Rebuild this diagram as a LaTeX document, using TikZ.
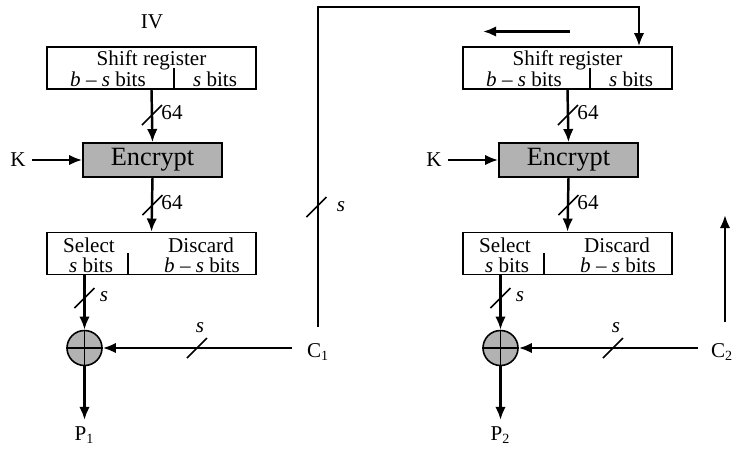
\documentclass[tikz,border=0pt]{standalone}
\usepackage{fontspec}
\setmainfont{Liberation Serif}
\usetikzlibrary{arrows.meta}

\begin{document}
\begin{tikzpicture}[
    font=\fontsize{12}{13}\selectfont,
    regbox/.style={draw,line width=0.9pt,minimum width=4.18cm,minimum height=0.84cm,inner sep=0pt},
    encbox/.style={draw,line width=0.9pt,fill=black!30,minimum width=2.78cm,minimum height=0.68cm,inner sep=0pt,font=\fontsize{15}{16}\selectfont},
    xorc/.style={draw,circle,line width=0.9pt,fill=black!30,minimum size=0.7cm,inner sep=0pt},
    bus/.style={line width=1.4pt,-{Latex[length=7.5pt,width=6pt]}},
    tick/.style={line width=0.9pt},
    lbl/.style={inner sep=1pt}
  ]
            \useasboundingbox (0,0) rectangle (14.72,-9.08);

            % 第一级
            \node (iv) at (3.04,-0.44) {IV};
            \node[regbox] (sr1) at (3.03,-1.36) {};
            \node[lbl] (sr1a) at (3.03,-1.2) {Shift register};
            \node[lbl] (sr1b) at (2.16,-1.58) {\textit{b} – \textit{s} bits};
            \node[lbl] (sr1c) at (4.3,-1.58) {\textit{s} bits};
            \draw[tick] (3.48,-1.36) -- (3.48,-1.78);

            \node[encbox] (enc1) at (3.05,-3.2) {Encrypt};
            \node (K1) at (0.36,-3.2) {K};

            \node[regbox] (sel1) at (3.03,-5.07) {};
            \node[lbl] (sel1a) at (1.78,-4.9) {Select};
            \node[lbl] (sel1b) at (1.82,-5.3) {\textit{s} bits};
            \node[lbl] (sel1c) at (4.02,-4.9) {Discard};
            \node[lbl] (sel1d) at (4.04,-5.3) {\textit{b} – \textit{s} bits};
            \draw[tick] (2.56,-5.06) -- (2.56,-5.48);

            \node[xorc] (xor1) at (1.69,-6.96) {};
            \draw[tick] (xor1.north) -- (xor1.south) (xor1.west) -- (xor1.east);
            \node (C1) at (6.36,-7.04) {C\textsubscript{1}};
            \node[anchor=north] (P1) at (1.69,-8.4) {P\textsubscript{1}};

            \draw[bus] (sr1.south) -- (enc1.north);
            \draw[bus] (K1) -- (enc1.west);
            \draw[bus] (enc1.south) -- (sel1.north);
            \draw[bus] (sel1.south -| xor1) -- (xor1.north);
            \draw[bus,shorten <=5pt] (xor1 -| C1.west) -- (xor1.east);
            \draw[bus] (xor1.south) -- (P1.north);

            % 位宽标记
            \draw[tick] (3.04,-2.3) ++(-0.2,-0.2) -- ++(0.4,0.4);
            \node[lbl] (w1) at (3.44,-2.26) {64};
            \draw[tick] (3.05,-4.1) ++(-0.2,-0.2) -- ++(0.4,0.4);
            \node[lbl] (w2) at (3.44,-4.06) {64};
            \draw[tick] (1.69,-5.96) ++(-0.2,-0.2) -- ++(0.4,0.4);
            \node[lbl] (w3) at (2.08,-5.94) {\textit{s}};
            \draw[tick] (3.94,-6.96) ++(-0.2,-0.2) -- ++(0.4,0.4);
            \node[lbl] (w4) at (4.0,-6.56) {\textit{s}};

            % 第二级
            \node[regbox] (sr2) at (11.35,-1.36) {};
            \node[lbl] (sr2a) at (11.35,-1.2) {Shift register};
            \node[lbl] (sr2b) at (10.48,-1.58) {\textit{b} – \textit{s} bits};
            \node[lbl] (sr2c) at (12.62,-1.58) {\textit{s} bits};
            \draw[tick] (11.8,-1.36) -- (11.8,-1.78);
            \coordinate (sh0) at (11.4,-0.63);
            \coordinate (sh1) at (9.66,-0.63);
            \draw[bus] (sh0) -- (sh1);

            \node[encbox] (enc2) at (11.37,-3.2) {Encrypt};
            \node (K2) at (8.68,-3.2) {K};

            \node[regbox] (sel2) at (11.35,-5.07) {};
            \node[lbl] (sel2a) at (10.1,-4.9) {Select};
            \node[lbl] (sel2b) at (10.14,-5.3) {\textit{s} bits};
            \node[lbl] (sel2c) at (12.34,-4.9) {Discard};
            \node[lbl] (sel2d) at (12.36,-5.3) {\textit{b} – \textit{s} bits};
            \draw[tick] (10.88,-5.06) -- (10.88,-5.48);

            \node[xorc] (xor2) at (10.01,-6.96) {};
            \draw[tick] (xor2.north) -- (xor2.south) (xor2.west) -- (xor2.east);
            \node (C2) at (14.44,-7.04) {C\textsubscript{2}};
            \node[anchor=north] (P2) at (10.01,-8.4) {P\textsubscript{2}};

            \draw[bus] (sr2.south) -- (enc2.north);
            \draw[bus] (K2) -- (enc2.west);
            \draw[bus] (enc2.south) -- (sel2.north);
            \draw[bus] (sel2.south -| xor2) -- (xor2.north);
            \draw[bus,shorten <=4pt] (xor2 -| C2.west) -- (xor2.east);
            \draw[bus] (xor2.south) -- (P2.north);
            \coordinate (up0) at (14.5,-6.44);
            \coordinate (up1) at (14.5,-4.3);
            \draw[bus] (up0) -- (up1);

            \draw[tick] (11.36,-2.3) ++(-0.2,-0.2) -- ++(0.4,0.4);
            \node[lbl] (w6) at (11.76,-2.26) {64};
            \draw[tick] (11.37,-4.1) ++(-0.2,-0.2) -- ++(0.4,0.4);
            \node[lbl] (w7) at (11.76,-4.06) {64};
            \draw[tick] (10.01,-5.96) ++(-0.2,-0.2) -- ++(0.4,0.4);
            \node[lbl] (w8) at (10.4,-5.94) {\textit{s}};
            \draw[tick] (12.26,-6.96) ++(-0.2,-0.2) -- ++(0.4,0.4);
            \node[lbl] (w9) at (12.32,-6.56) {\textit{s}};

            % 反馈
            \coordinate (fb) at (12.78,-0.14);
            \draw[bus,shorten <=6pt] (C1.north) |- (fb) -- (fb |- sr2.north);
            \draw[tick] (6.33,-4.14) ++(-0.2,-0.2) -- ++(0.4,0.4);
            \node[lbl] (w5) at (6.82,-4.14) {\textit{s}};
        \end{tikzpicture}
\end{document}
